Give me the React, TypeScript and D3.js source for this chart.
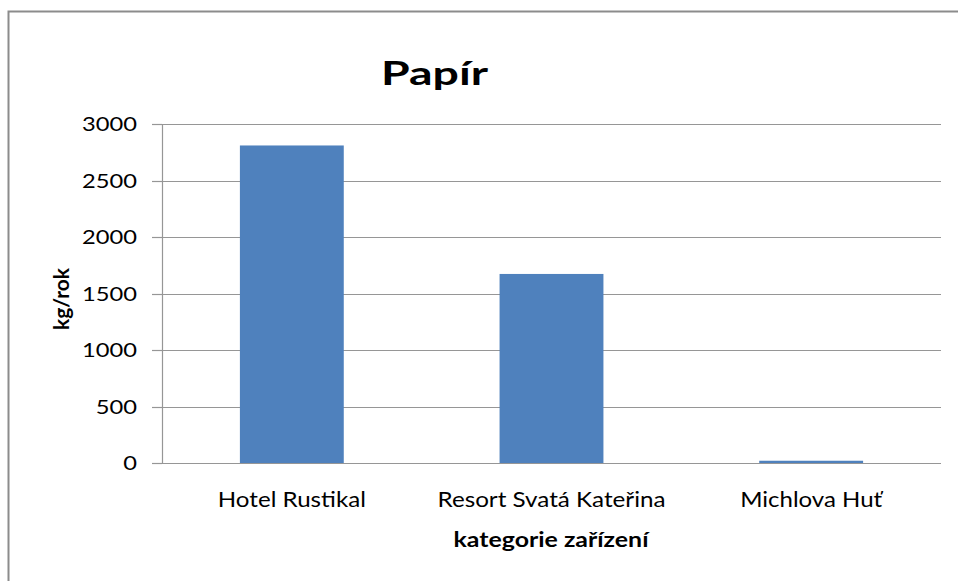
import React from "react";
import * as d3 from "d3";

const categories = ["Hotel Rustikal", "Resort Svatá Kateřina", "Michlova Huť"];
const values = [2810, 1673, 20];
const yTicks = [0, 500, 1000, 1500, 2000, 2500, 3000];
const titleText = "Papír";
const xTitle = "kategorie zařízení";
const yTitle = "kg/rok";
const catWidths = [148, 228, 142];

export default function App() {
  const W = 958, H = 581;
  const left = 162, right = 941, top = 124, bottom = 463;
  const x = d3.scaleBand<string>().domain(categories).range([left, right]).paddingInner(0.6).paddingOuter(0.3);
  const y = d3.scaleLinear().domain([0, 3000]).range([bottom, top]);
  const font = "Lato, 'Open Sans', sans-serif";
  return (
    <svg width={W} height={H} style={{ position: "absolute", left: 0, top: 0, background: "#fff" }}>
      <rect x={8.5} y={11.5} width={980} height={600} fill="#fff" stroke="#8c8c8c" strokeWidth={2} />
      {yTicks.map((t) => (
        <g key={t}>
          <line x1={left} x2={right} y1={Math.round(y(t)) + 0.5} y2={Math.round(y(t)) + 0.5} stroke="#969696" strokeWidth={1.2} />
          <line x1={152} x2={left} y1={Math.round(y(t)) + 0.5} y2={Math.round(y(t)) + 0.5} stroke="#969696" strokeWidth={1.2} />
          <text x={137} y={y(t) + 7} textAnchor="end" fontFamily={font} fontSize={19} fill="#000"
            textLength={String(t).length * 13.75} lengthAdjust="spacingAndGlyphs">{t}</text>
        </g>
      ))}
      <line x1={left + 0.5} x2={left + 0.5} y1={top} y2={bottom} stroke="#969696" strokeWidth={1.2} />
      {categories.map((c, i) => (
        <rect key={c} x={x(c)!} y={y(values[i])} width={x.bandwidth()} height={bottom - y(values[i])} fill="#4f81bd" />
      ))}
      {categories.map((c, i) => (
        <text key={c} x={x(c)! + x.bandwidth() / 2} y={507} textAnchor="middle" fontFamily={font} fontSize={22} fill="#000"
          textLength={catWidths[i]} lengthAdjust="spacingAndGlyphs">{c}</text>
      ))}
      <text x={551} y={547} textAnchor="middle" fontFamily={font} fontWeight="bold" fontSize={20} fill="#000"
        textLength={195} lengthAdjust="spacingAndGlyphs">{xTitle}</text>
      <text transform="translate(69,299) rotate(-90)" textAnchor="middle" fontFamily={font} fontWeight="bold" fontSize={20} fill="#000"
        textLength={62} lengthAdjust="spacingAndGlyphs">{yTitle}</text>
      <text x={434.5} y={85} textAnchor="middle" fontFamily={font} fontWeight="bold" fontSize={32} fill="#000"
        textLength={107} lengthAdjust="spacingAndGlyphs">{titleText}</text>
    </svg>
  );
}
